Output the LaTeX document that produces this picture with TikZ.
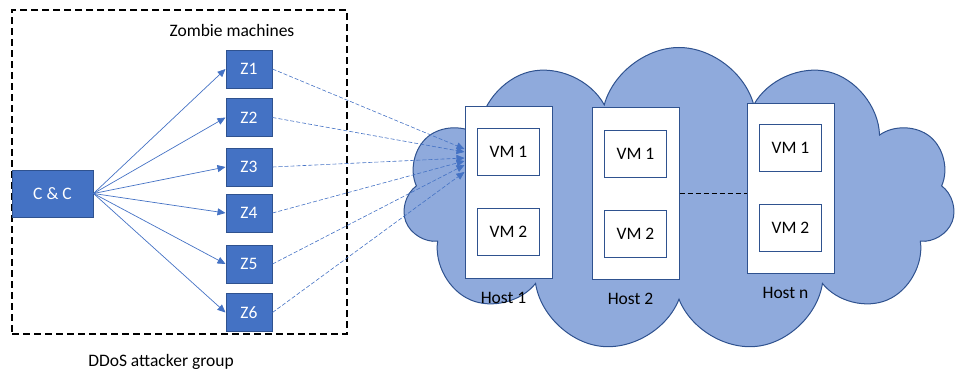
\documentclass[tikz,border=0pt]{standalone}
\usepackage{fontspec}
\setmainfont{Carlito}
\usetikzlibrary{shapes.symbols,arrows.meta,calc}
\definecolor{boxblue}{HTML}{4472C4}
\definecolor{edgeblue}{HTML}{2F528F}
\definecolor{cloudblue}{HTML}{8FAADC}

\begin{document}
\begin{tikzpicture}[x=1pt,y=-1pt,font=\fontsize{17.5}{21}\selectfont]
\tikzstyle{zbox} = [rectangle, fill=boxblue, draw=edgeblue, line width=1pt, text=white, minimum width=46pt, minimum height=38pt, inner sep=0pt]
\tikzstyle{hostbox} = [rectangle, fill=white, draw=edgeblue, line width=1pt, minimum width=87pt, minimum height=172pt, inner sep=0pt]
\tikzstyle{vmbox} = [rectangle, fill=white, draw=edgeblue, line width=1pt, minimum width=62pt, minimum height=47pt, inner sep=0pt]
\tikzstyle{hostname} = [yshift=-10pt, xshift=-5pt]
\tikzstyle{cmd} = [-{Triangle[length=8pt,width=7pt]}, boxblue, line width=0.7pt]
\tikzstyle{atk} = [-{Triangle[length=8pt,width=7pt]}, boxblue, dash pattern=on 4pt off 2pt, line width=0.6pt]
\useasboundingbox (0,0) rectangle (961,375);
% attacker side
\node[draw, dash pattern=on 7pt off 4pt, line width=1.2pt, minimum width=335pt, minimum height=324pt] (group) at (179.5,172) {};
\node (zlabel) at (232,30) {Zombie machines};
\node (glabel) at (161,362) {DDoS attacker group};
\node[zbox, minimum width=81pt, minimum height=47pt] (cc) at (52.5,193.5) {C \& C};
\node[zbox] (z1) at (249,69) {Z1};
\node[zbox] (z2) at (249,117.5) {Z2};
\node[zbox] (z3) at (249,167) {Z3};
\node[zbox] (z4) at (249,213) {Z4};
\node[zbox] (z5) at (249,264) {Z5};
\node[zbox] (z6) at (249,312.5) {Z6};
% cloud with hosts
\node[cloud, cloud puffs=11, draw=edgeblue, fill=cloudblue, line width=1pt, minimum width=552pt, minimum height=305pt, aspect=1.8] (net) at (679,200) {};
\node[hostbox, label={[hostname]below:Host 1}] (h1) at (508.5,192) {};
\node[hostbox, label={[hostname]below:Host 2}] (h2) at (635.5,193.5) {};
\node[hostbox, minimum height=170pt, label={[hostname]below:Host n}] (hn) at (790.5,188) {};
\foreach \h in {h1,h2,hn} {
  \node[vmbox] (\h vm1) at ($(\h)+(0,-40)$) {VM 1};
  \node[vmbox] (\h vm2) at ($(\h)+(0,40)$) {VM 2};
}
\draw[dash pattern=on 5pt off 3pt, line width=1.3pt] (h2.east) -- (h2.east -| hn.west);
% command and attack traffic
\foreach \z/\dy in {z1/-43,z2/-40,z3/-34,z4/-31,z5/-27,z6/-20} {
  \draw[cmd] (cc.east) -- (\z.west);
  \draw[atk] (\z.east) -- ($(h1.west)+(0,\dy)$);
}
\end{tikzpicture}
\end{document}
